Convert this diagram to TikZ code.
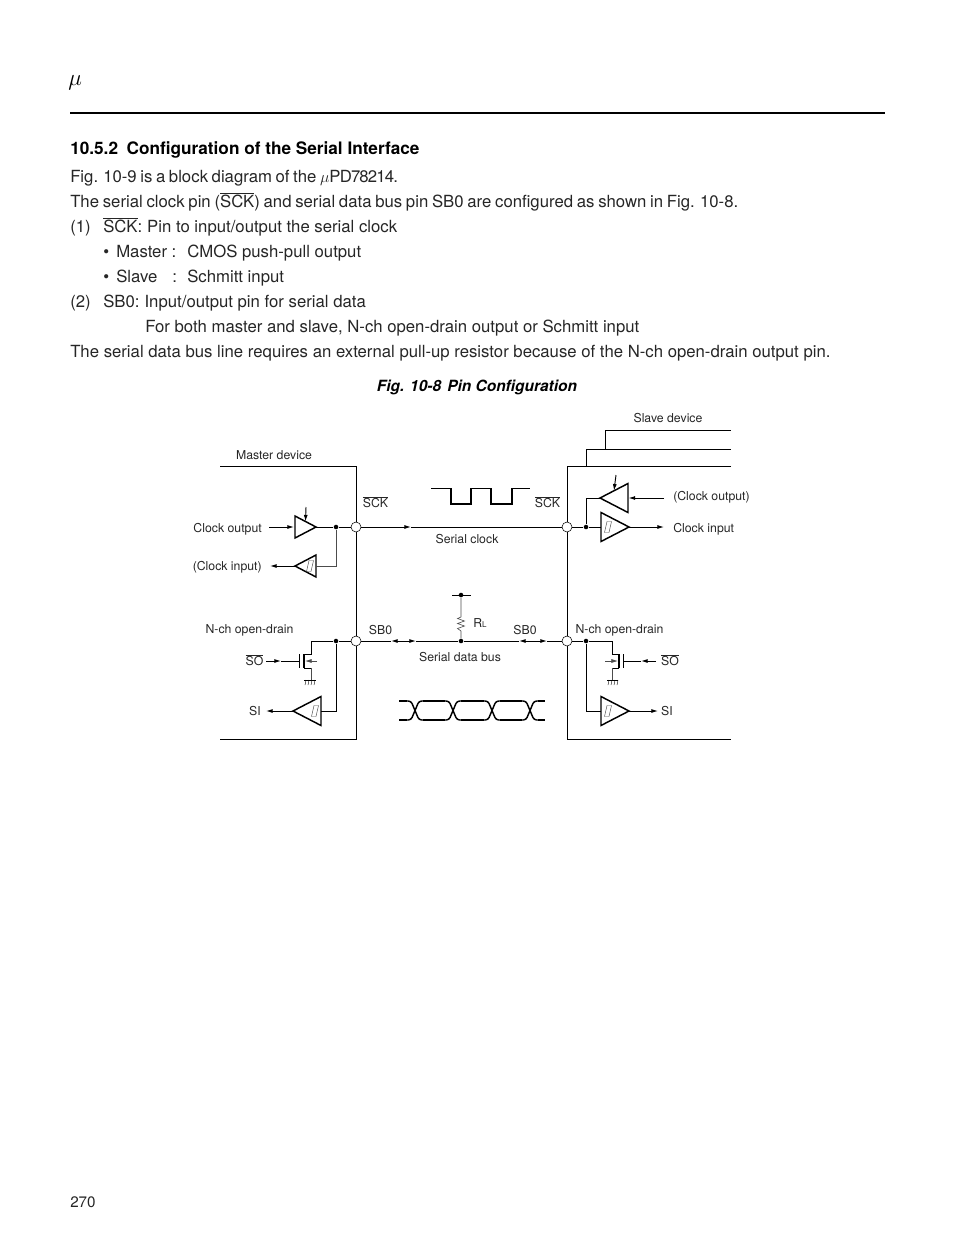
\documentclass[tikz,border=0pt]{standalone}
\usepackage{fontspec}
\setmainfont{TeX Gyre Heros}
\usetikzlibrary{shapes.geometric,arrows.meta}
\newcommand{\ovl}[1]{$\overline{\mbox{#1}}$}
\begin{document}
\begin{tikzpicture}[x=0.75pt,y=-0.75pt,>={Latex[length=5pt,width=3pt]}]
    \tikzstyle{body}=[anchor=base west,inner sep=0,font=\fontsize{12.55}{15}\selectfont,text=black!85]
    \tikzstyle{lab}=[inner sep=0,font=\fontsize{9.2}{11}\selectfont,text=black!85]
    \tikzstyle{wire}=[line width=0.7pt]
    \tikzstyle{thinwire}=[line width=0.45pt,black!70]
    \tikzstyle{frame}=[line width=0.7pt]
    \tikzstyle{buf}=[draw,isosceles triangle,isosceles triangle stretches,inner sep=0,outer sep=0,line width=1.1pt,minimum width=29*0.75pt,minimum height=28*0.75pt]
    \tikzstyle{smallbuf}=[buf,minimum width=22*0.75pt,minimum height=21*0.75pt]
    \tikzstyle{pinc}=[draw,circle,fill=white,inner sep=0,minimum size=7.5pt,line width=0.4pt]
    \tikzstyle{dotn}=[circle,fill=black,inner sep=0,minimum size=3.4pt]
    \useasboundingbox (0,0) rectangle (954,1235);

    \node[anchor=base west,inner sep=0,font=\fontsize{17}{19}\selectfont] (mu) at (68,85) {$\mu$};
    \coordinate (rulea) at (70,113);
    \coordinate (ruleb) at (885,113);
    \draw[line width=1.5pt] (rulea) -- (ruleb);

    \node[body,font=\fontsize{12.9}{15}\bfseries\selectfont,text=black] (title) at (70,154) {10.5.2\hspace{0.5em}Configuration of the Serial Interface};
    \node[body] (l1) at (70,182.5) {\spaceskip=2.7pt Fig. 10-9 is a block diagram of the $\mu${\addfontfeature{LetterSpace=-5}PD78214.}};
    \node[body] (l2) at (70,207.5) {\spaceskip=2.8pt The serial clock pin (\ovl{SCK}) and serial data bus pin SB0 are configured as shown in Fig. 10-8.};
    \node[body] (l3a) at (70,232.5) {(1)};
    \node[body] (l3b) at (103,232.5) {\ovl{SCK}:\hspace{0.3em}Pin to input/output the serial clock};
    \node[body] (l4a) at (103,257.5) {•};
    \node[body] (l4b) at (116,257.5) {Master :};
    \node[body] (l4c) at (187,257.5) {CMOS push-pull output};
    \node[body] (l5a) at (103,282.5) {•};
    \node[body] (l5b) at (116,282.5) {Slave};
    \node[body] (l5c) at (172,282.5) {:};
    \node[body] (l5d) at (187,282.5) {Schmitt input};
    \node[body] (l6a) at (70,307.5) {(2)};
    \node[body] (l6b) at (103,307.5) {SB0:\hspace{0.3em}Input/output pin for serial data};
    \node[body] (l7) at (145,332.5) {For both master and slave, N-ch open-drain output or Schmitt input};
    \node[body] (l8) at (70,357.5) {The serial data bus line requires an external pull-up resistor because of the N-ch open-drain output pin.};
    \node[inner sep=0,font=\fontsize{11.6}{15}\bfseries\itshape\selectfont] (caption) at (477,387) {Fig. 10-8\hspace{0.4em}Pin Configuration};
    \node[body,font=\fontsize{11.4}{13}\selectfont] (page) at (70,1207) {270};

    \draw[frame] (220,466) -- (356,466) -- (356,739) -- (220,739);
    \draw[frame] (731,466) -- (567,466) -- (567,739) -- (731,739);
    \draw[frame] (586,466) -- (586,449) -- (731,449);
    \draw[frame] (605,449) -- (605,430) -- (731,430);

    \node[pinc] (mckpin) at (356,527) {};
    \node[pinc] (sckpin) at (567,527) {};
    \node[pinc] (msbpin) at (356,641) {};
    \node[pinc] (ssbpin) at (567,641) {};
    \node[dotn] (mckdot) at (336,527) {};
    \node[dotn] (sckdot) at (586,527) {};
    \node[dotn] (msbdot) at (336,641) {};
    \node[dotn] (ssbdot) at (586,641) {};
    \node[dotn] (rtop) at (461,595) {};
    \node[dotn] (rbot) at (461,641) {};

    \node[smallbuf,anchor=lower side] (mckout) at (295,527) {};
    \node[smallbuf,shape border rotate=180,anchor=lower side] (mckin) at (316,566) {};
    \node[buf,shape border rotate=180,anchor=lower side] (sckout) at (628,498) {};
    \node[buf,anchor=lower side] (sckin) at (601,527) {};
    \node[buf,shape border rotate=180,anchor=lower side] (msi) at (321,711) {};
    \node[buf,anchor=lower side] (ssi) at (601,711) {};

    \foreach \hx/\hy in {310/566,608/527,315/711,608/711}
        \draw[line width=0.35pt,black!70] (\hx-3.5,\hy+5.5) -- (\hx+1,\hy+5.5) -- (\hx+3.5,\hy-5.5) -- (\hx-1,\hy-5.5) -- cycle;

    \node[lab] (masterlab) at (274,455) {Master device};
    \node[lab] (slavelab) at (668,418) {Slave device};
    \node[lab] (msck) at (375.5,502) {\ovl{SCK}};
    \node[lab] (ssck) at (547.5,502) {\ovl{SCK}};
    \node[lab,anchor=east] (mckoutlab) at (262,529) {Clock output};
    \node[lab,anchor=east] (mckinlab) at (262,567) {(Clock input)};
    \node[lab,anchor=west] (sckoutlab) at (673,497) {(Clock output)};
    \node[lab,anchor=west] (sckinlab) at (673,529) {Clock input};
    \node[lab] (clklab) at (467,539) {Serial clock};
    \node[lab] (datalab) at (460,657) {Serial data bus};
    \node[lab] (msbo) at (380.5,630) {SB0};
    \node[lab] (ssbo) at (525,630) {SB0};
    \node[lab] (mnch) at (249.5,630) {N-ch open-drain};
    \node[lab] (snch) at (619.5,630) {N-ch open-drain};
    \node[lab] (mso) at (254.5,660) {\ovl{SO}};
    \node[lab] (sso) at (670,660) {\ovl{SO}};
    \node[lab] (msilab) at (255,711) {SI};
    \node[lab] (ssilab) at (667,711) {SI};
    \node[lab,anchor=west] (rl) at (473,623) {R{\fontsize{6}{7}\selectfont L}};

    \coordinate (mckfrom) at (269,527);
    \coordinate (mckmid) at (294,527);
    \coordinate (mckto) at (270,566);
    \coordinate (mcken) at (306,507);
    \coordinate (ckmid) at (411,527);
    \coordinate (sckfrom) at (664,498);
    \coordinate (sckmid) at (628.5,498);
    \coordinate (sckto) at (664,527);
    \coordinate (scken) at (616,475);
    \draw[wire,->] (mckfrom) -- (mckmid);
    \draw[wire] (mckout.apex) -- (mckdot) -- (mckpin);
    \draw[wire,->] (mcken) -- (mckout.left side);
    \draw[thinwire] (mckdot) |- (mckin.lower side);
    \draw[wire,->] (mckin.apex) -- (mckto);
    \draw[wire,->] (mckpin) -- (ckmid);
    \draw[wire] (ckmid) -- (sckpin);
    \draw[wire] (sckpin) -- (sckdot) -- (sckin.lower side);
    \draw[wire,->] (sckin.apex) -- (sckto);
    \draw[wire] (sckout.apex) -| (sckdot);
    \draw[wire,->] (sckfrom) -- (sckmid);
    \draw[wire,->] (scken) -- (sckout.right side);

    \coordinate (bus1) at (391,641);
    \coordinate (bus2) at (416,641);
    \coordinate (bus3) at (519,641);
    \coordinate (bus4) at (547,641);
    \draw[wire] (msbpin) -- (bus1);
    \draw[wire,<->] (bus1) -- (bus2);
    \draw[wire] (bus2) -- (rbot) -- (bus3);
    \draw[wire,<->] (bus3) -- (bus4);
    \draw[wire] (bus4) -- (ssbpin);
    \coordinate (rbara) at (452,595);
    \coordinate (rbarb) at (471,595);
    \draw[wire] (rbara) -- (rbarb);
    \draw[thinwire] (rtop) -- (461,617) -- (457.5,618.5) -- (464.5,621) -- (457.5,623.5) -- (464.5,626) -- (457.5,628.5) -- (461,631) -- (rbot);

    \coordinate (msofrom) at (266,661);
    \coordinate (msomid) at (281,661);
    \coordinate (msogate) at (299,661);
    \coordinate (msito) at (266,711);
    \draw[wire] (msbpin) -- (msbdot);
    \draw[wire] (msbdot) -- (311,641) -- (311,654) -- (304,654);
    \draw[line width=1pt] (304,654) -- (304,668);
    \draw[wire] (299,654) -- (299,668);
    \draw[wire] (304,668) -- (311,668);
    \draw[thinwire] (311,668) -- (311,680);
    \draw[wire] (304,680) -- (316,680);
    \foreach \gx in {306,309,312,315}
        \draw[line width=0.3pt] (\gx,680) -- (\gx-1,685);
    \draw[wire,->] (msofrom) -- (msomid);
    \draw[wire] (msomid) -- (msogate);
    \draw[thinwire,->] (317,661) -- (305,661);
    \draw[wire] (msbdot) |- (msi.lower side);
    \draw[wire,->] (msi.apex) -- (msito);

    \coordinate (ssofrom) at (656,661);
    \coordinate (ssomid) at (641,661);
    \coordinate (ssogate) at (623,661);
    \coordinate (ssito) at (658,711);
    \draw[wire] (ssbpin) -- (ssbdot);
    \draw[wire] (ssbdot) -- (612,641) -- (612,654) -- (619,654);
    \draw[line width=1pt] (619,654) -- (619,668);
    \draw[wire] (623,654) -- (623,668);
    \draw[wire] (619,668) -- (612,668);
    \draw[thinwire] (612,668) -- (612,680);
    \draw[wire] (607,680) -- (618,680);
    \foreach \gx in {609,612,615,618}
        \draw[line width=0.3pt] (\gx,680) -- (\gx-1,685);
    \draw[wire,->] (ssofrom) -- (ssomid);
    \draw[wire] (ssomid) -- (ssogate);
    \draw[thinwire,->] (605,661) -- (618,661);
    \draw[wire] (ssbdot) |- (ssi.lower side);
    \draw[wire,->] (ssi.apex) -- (ssito);

    \draw[line width=0.6pt] (431,488) -- (451,488);
    \draw[line width=1.1pt] (451,488) -- (451,504) -- (471,504) -- (471,488);
    \draw[line width=0.6pt] (471,488) -- (491,488);
    \draw[line width=1.1pt] (491,488) -- (491,504) -- (512,504) -- (512,488);
    \draw[line width=0.6pt] (512,488) -- (530,488);

    \foreach \cx in {415,453,492,530} {
        \draw[line width=1.1pt,rounded corners=2pt] (\cx-8,701) -- (\cx-4,701) -- (\cx+4,720) -- (\cx+8,720);
        \draw[line width=1.1pt,rounded corners=2pt] (\cx-8,720) -- (\cx-4,720) -- (\cx+4,701) -- (\cx+8,701);
    }
    \foreach \sa/\sb in {399/407,423/445,461/484,500/522,538/545} {
        \draw[line width=1.1pt] (\sa,701) -- (\sb,701);
        \draw[line width=1.1pt] (\sa,720) -- (\sb,720);
    }
\end{tikzpicture}
\end{document}
